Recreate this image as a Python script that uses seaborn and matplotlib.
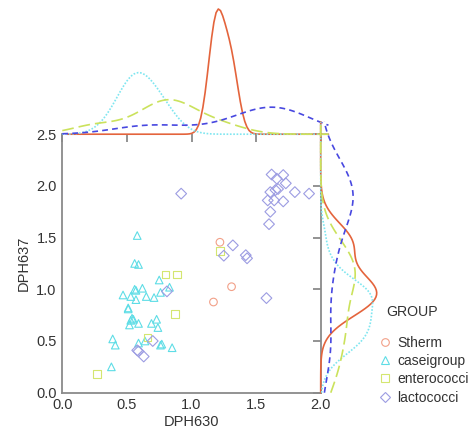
import numpy as np
import pandas as pd
import matplotlib
matplotlib.use("Agg")
import matplotlib.pyplot as plt
from matplotlib.lines import Line2D
import seaborn as sns

# ---- data -------------------------------------------------------------
groups = ["Stherm", "caseigroup", "enterococci", "lactococci"]

stherm_x = [1.22, 1.31, 1.17]
stherm_y = [1.455, 1.025, 0.877]

casei_x = [0.58, 0.56, 0.59, 0.56, 0.57, 0.62, 0.47, 0.53, 0.57, 0.65, 0.71,
           0.75, 0.76, 0.83, 0.51, 0.51, 0.54, 0.55, 0.53, 0.52, 0.59, 0.69,
           0.73, 0.74, 0.39, 0.41, 0.59, 0.64, 0.76, 0.77, 0.85, 0.38]
casei_y = [1.52, 1.25, 1.24, 1.00, 0.99, 1.01, 0.945, 0.93, 0.90, 0.93, 0.92,
           1.09, 0.97, 1.02, 0.82, 0.81, 0.72, 0.71, 0.70, 0.655, 0.67, 0.67,
           0.71, 0.63, 0.52, 0.46, 0.48, 0.50, 0.46, 0.47, 0.435, 0.25]

entero_x = [0.80, 0.89, 0.87, 0.66, 0.27, 1.22]
entero_y = [1.145, 1.145, 0.76, 0.535, 0.18, 1.37]

lacto_x = [0.81, 0.58, 0.59, 0.70, 0.63, 1.25, 1.32, 1.42, 1.43, 1.58, 0.92,
           1.62, 1.66, 1.71, 1.73, 1.61, 1.65, 1.67, 1.80, 1.91, 1.59, 1.64,
           1.71, 1.61, 1.60]
lacto_y = [0.98, 0.41, 0.40, 0.50, 0.35, 1.325, 1.425, 1.33, 1.30, 0.915, 1.925,
           2.11, 2.07, 2.105, 2.025, 1.94, 1.96, 1.97, 1.94, 1.925, 1.86, 1.86,
           1.85, 1.75, 1.63]

xs = [stherm_x, casei_x, entero_x, lacto_x]
ys = [stherm_y, casei_y, entero_y, lacto_y]

df = pd.DataFrame({
    "DPH630": np.concatenate(xs),
    "DPH637": np.concatenate(ys),
    "GROUP": np.repeat(groups, [len(v) for v in xs]),
})

# ---- styles -----------------------------------------------------------
marker_colors = {"Stherm": "#F2A088", "caseigroup": "#5EDDE6",
                 "enterococci": "#D4E670", "lactococci": "#9C9CE2"}
line_colors = {"Stherm": "#E4643C", "caseigroup": "#7FE6F0",
               "enterococci": "#CBE25C", "lactococci": "#4848E0"}
line_styles = {"Stherm": "-", "caseigroup": (0, (1, 1)),
               "enterococci": (0, (7, 3)), "lactococci": (0, (3.5, 2.5))}
markers = {"Stherm": "o", "caseigroup": "^", "enterococci": "s", "lactococci": "D"}
# per-group bandwidth factors for the two marginal density curves
bw_x = {"Stherm": 1.0, "caseigroup": 2.0, "enterococci": 0.9, "lactococci": 1.2}
bw_y = {"Stherm": 0.8, "caseigroup": 1.0, "enterococci": 0.8, "lactococci": 1.0}

sns.set_theme(style="white")
plt.rcParams["font.family"] = ["Liberation Sans", "DejaVu Sans"]

W, H = 475, 438
fig = plt.figure(figsize=(W / 100, H / 100), dpi=100)

x0, x1 = 62.3, 320.7      # pixel columns of x = 0 and x = 2
y0, y1 = 392.7, 134.2     # pixel rows of y = 0 and y = 2.5

ax = fig.add_axes([x0 / W, 1 - y0 / H, (x1 - x0) / W, (y0 - y1) / H])
ax_top = fig.add_axes([x0 / W, 1 - y1 / H, (x1 - x0) / W, y1 / H])
ax_right = fig.add_axes([x1 / W, 1 - y0 / H, (W - x1) / W, (y0 - y1) / H])
for a in (ax_top, ax_right):
    a.set_facecolor("none")
    a.set_axis_off()

# ---- scatter ----------------------------------------------------------
sns.scatterplot(data=df, x="DPH630", y="DPH637", hue="GROUP", style="GROUP",
                hue_order=groups, style_order=groups, palette=marker_colors,
                markers=markers, s=30, linewidth=0.8, legend=False, ax=ax)
for coll in ax.collections:
    fc = coll.get_facecolors()
    coll.set_edgecolors(fc)
    coll.set_facecolors("none")

ax.set_xlim(0, 2.0)
ax.set_ylim(0, 2.5)
ax.set_xticks([0.0, 0.5, 1.0, 1.5, 2.0])
ax.set_yticks([0.0, 0.5, 1.0, 1.5, 2.0, 2.5])
ax.xaxis.set_major_formatter(matplotlib.ticker.FormatStrFormatter("%.1f"))
ax.yaxis.set_major_formatter(matplotlib.ticker.FormatStrFormatter("%.1f"))
spine_col = "#8a8a8a"
for side in ("left", "bottom", "right"):
    ax.spines[side].set_color(spine_col)
    ax.spines[side].set_linewidth(1.3)
ax.spines["top"].set_visible(False)
ax.spines["right"].set_bounds(0, 2.0)
ax.tick_params(direction="in", length=6, width=1.3, color=spine_col,
               top=True, right=True, labelsize=10.5, labelcolor="#333333", pad=4)
ax.set_xlabel("DPH630", fontsize=10.5, color="#333333", labelpad=2)
ax.set_ylabel("DPH637", fontsize=10.5, color="#333333", labelpad=4)

# ---- marginal densities ----------------------------------------------
for g, gx, gy in zip(groups, xs, ys):
    sns.kdeplot(x=gx, ax=ax_top, color=line_colors[g], linestyle=line_styles[g],
                linewidth=1.2, bw_adjust=bw_x[g], cut=20, clip=(0, 2.06),
                gridsize=120)
    sns.kdeplot(y=gy, ax=ax_right, color=line_colors[g], linestyle=line_styles[g],
                linewidth=1.2, bw_adjust=bw_y[g], cut=20, clip=(0, 2.62),
                gridsize=120)

top_peak = max(ax_top.lines[0].get_ydata())
right_peak = max(ax_right.lines[0].get_xdata())
ax_top.set_xlim(0, 2.0)
ax_top.set_ylim(0, top_peak * y1 / (y1 - 9))
ax_right.set_ylim(0, 2.5)
ax_right.set_xlim(0, right_peak * (W - x1) / 56)
for a in (ax_top, ax_right):
    for ln in a.lines:
        ln.set_clip_on(False)

# ---- legend -----------------------------------------------------------
fig.text(386.5 / W, 1 - 311.7 / H, "GROUP", fontsize=10.2, color="#333333",
         ha="left", va="center")
handles = [Line2D([], [], linestyle="", marker=markers[g], markersize=5.5,
                  markerfacecolor="none", markeredgecolor=marker_colors[g],
                  markeredgewidth=0.8, label=g) for g in groups]
leg = fig.legend(handles=handles, loc="upper left",
                 bbox_to_anchor=(378.5 / W, 1 - 336 / H), frameon=False,
                 fontsize=10, handlelength=1.0, handletextpad=0.35,
                 labelspacing=0.3, borderpad=0, borderaxespad=0)
for t in leg.get_texts():
    t.set_color("#333333")

fig.savefig("out.png", dpi=100)
